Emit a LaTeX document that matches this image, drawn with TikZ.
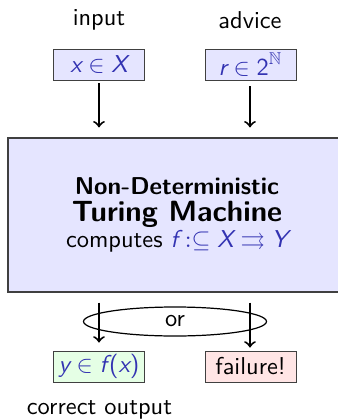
\documentclass[tikz,border=0pt]{standalone}
\usepackage{amssymb}
\usetikzlibrary{shapes.geometric}
\definecolor{struct}{RGB}{51,51,178}
\definecolor{boxblue}{RGB}{229,229,255}
\definecolor{boxgreen}{RGB}{229,255,229}
\definecolor{boxred}{RGB}{255,229,229}
\newcommand\mi[1]{\textsf{\itshape #1}}
\newcommand\ms[1]{\textsf{#1}}
\begin{document}
\begin{tikzpicture}[x=0.41pt,y=-0.41pt,font=\sffamily,
  lbl/.style={inner sep=0pt},
  smallbox/.style={draw=black!75,line width=0.4pt,minimum width=91*0.41pt,minimum height=31*0.41pt,inner sep=0pt},
  arr/.style={->,line width=0.8pt}]
\useasboundingbox (0,0) rectangle (338,420);
\node[lbl] (input) at (99,20) {input};
\node[lbl] (advice) at (250,20) {advice};
\node[smallbox,fill=boxblue,text=struct] (xbox) at (99,64.5) {$\mi{x}\in\mi{X}$};
\node[smallbox,fill=boxblue,text=struct] (rbox) at (250.5,64.5) {$\mi{r}\in\ms{2}^{\mathbb{N}}$};
\node[draw=black!75,line width=0.5pt,fill=boxblue,minimum width=338*0.41pt,minimum height=154*0.41pt,inner sep=0pt,align=center] (tm) at (177,215)
  {\textbf{Non-Deterministic}\\[-1pt]{\large\textbf{Turing Machine}}\\[-1pt]computes {\color{struct}$\mi{f}\mathrel{:\subseteq}\mi{X}\rightrightarrows\mi{Y}$}};
\node[smallbox,fill=boxgreen,text=struct] (ybox) at (99,366.5) {$\mi{y}\in\mi{f}\mkern1.5mu\ms{(}\mi{x}\ms{)}$};
\node[smallbox,fill=boxred] (fbox) at (250.5,366.5) {failure!};
\node[draw,line width=0.5pt,ellipse,minimum width=183*0.41pt,minimum height=29*0.41pt,inner sep=0pt] (or) at (175,321.5) {or};
\node[lbl] (correct) at (99.5,410) {correct output};
\draw[arr,shorten <=3*0.41pt,shorten >=10*0.41pt] (xbox.south) -- (xbox.south |- tm.north);
\draw[arr,shorten <=6*0.41pt,shorten >=10*0.41pt] (rbox.south -| 250,0) -- (tm.north -| 250,0);
\draw[arr,shorten <=10*0.41pt,shorten >=8*0.41pt] (tm.south -| 99,0) -- (ybox.north -| 99,0);
\draw[arr,shorten <=10*0.41pt,shorten >=3*0.41pt] (tm.south -| 250,0) -- (fbox.north -| 250,0);
\end{tikzpicture}
\end{document}
